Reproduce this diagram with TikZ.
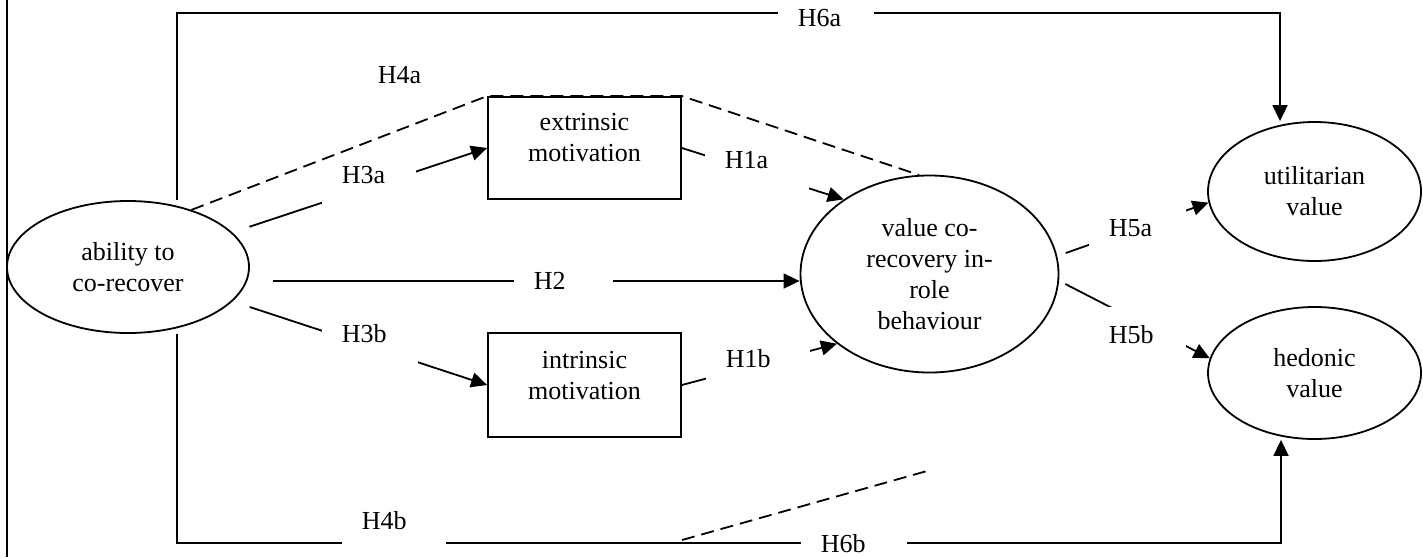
\documentclass[tikz,border=0pt]{standalone}
\usepackage{fontspec}
\setmainfont{Liberation Serif}
\usetikzlibrary{arrows.meta, shapes.geometric}
\tikzset{>={Triangle[length=16pt,width=15pt]}}
\tikzset{
	construct/.style={draw, ellipse, inner sep=0pt, align=center},
	motive/.style={draw, rectangle, inner sep=0pt, text width=193pt, align=center},
	gap/.style n args={3}{fill=white, anchor=base west, inner xsep=20pt, inner ysep=0pt, text width=#1, align=left, text height=#2, text depth=#3},
	indirect/.style={dash pattern=on 13pt off 7pt}
}

\begin{document}
\begin{tikzpicture}[x=1pt, y=-1pt, line width=1.8pt, font=\fontsize{26}{31}\selectfont]

	\useasboundingbox (0,0) rectangle (1423,557);
	\draw (7,0) -- (7,557);

	% constructs
	\node [construct, minimum width=242pt, minimum height=132pt] (ability) at (128,267) {ability to\\co-recover};
	\node [motive, text height=33pt, text depth=69pt] (extr) at (584.5,148) {extrinsic\\motivation};
	\node [motive, text height=35pt, text depth=69pt] (intr) at (584.5,385) {intrinsic\\motivation};
	\node [construct, minimum width=258pt, minimum height=197pt] (value) at (929.5,274) {value co-\\recovery in-\\role\\behaviour};
	\node [construct, minimum width=213pt, minimum height=139pt] (util) at (1314.5,191.5) {utilitarian\\value};
	\node [construct, minimum width=213pt, minimum height=132pt] (hedonic) at (1314.5,373) {hedonic\\value};

	\coordinate (tl) at (177,13);
	\coordinate (tr) at (1280,13);
	\coordinate (bl) at (177,543);
	\coordinate (br) at (1281,543);
	\coordinate (h2) at (273,281);
	\coordinate (d1) at (682,540);
	\coordinate (d2) at (927,471);

	% direct paths
	\draw [->] (tl |- ability.north) -- (tl) -- (tr) -- (tr |- util.north);
	\draw [->] (bl |- ability.south) -- (bl) -- (br) -- (br |- hedonic.south);
	\draw [->, shorten <=18pt] (ability) -- (extr.west);
	\draw [->, shorten <=18pt] (ability) -- (intr.west);
	\draw [->] (h2) -- (h2 -| value.west);
	\draw [->] (extr.east) -- (value.139);
	\draw [->] (intr.east) -- (value.217);
	\draw [->, shorten <=9pt] (value.8) -- (util.186);
	\draw [->, shorten <=7pt] (value.357) -- (hedonic.172);

	% moderation
	\draw [indirect] (ability.42) -- (extr.north west) -- (extr.north east) -- (value.96);
	\draw [indirect] (d1) -- (d2);

	% labels
	\node [gap={56pt}{26pt}{10pt}] (l6a) at (777,26) {H6a};
	\node [gap={50pt}{20pt}{8pt}] (l4a) at (357,83) {H4a};
	\node [gap={54pt}{19pt}{27pt}] (l3a) at (321,183) {H3a};
	\node [gap={56pt}{24pt}{28pt}] (l3b) at (321,342) {H3b};
	\node [gap={64pt}{23pt}{26pt}] (l1a) at (704,168) {H1a};
	\node [gap={64pt}{24pt}{18pt}] (l1b) at (705,367) {H1b};
	\node [gap={59pt}{20pt}{10pt}] (l2) at (513,289) {H2};
	\node [gap={57pt}{30pt}{13pt}] (l5a) at (1088,236) {H5a};
	\node [gap={57pt}{36pt}{7pt}] (l5b) at (1088,343) {H5b};
	\node [gap={64pt}{24pt}{21pt}] (l4b) at (341,529) {H4b};
	\node [gap={66pt}{24pt}{5pt}] (l6b) at (800,552) {H6b};

\end{tikzpicture}
\end{document}
